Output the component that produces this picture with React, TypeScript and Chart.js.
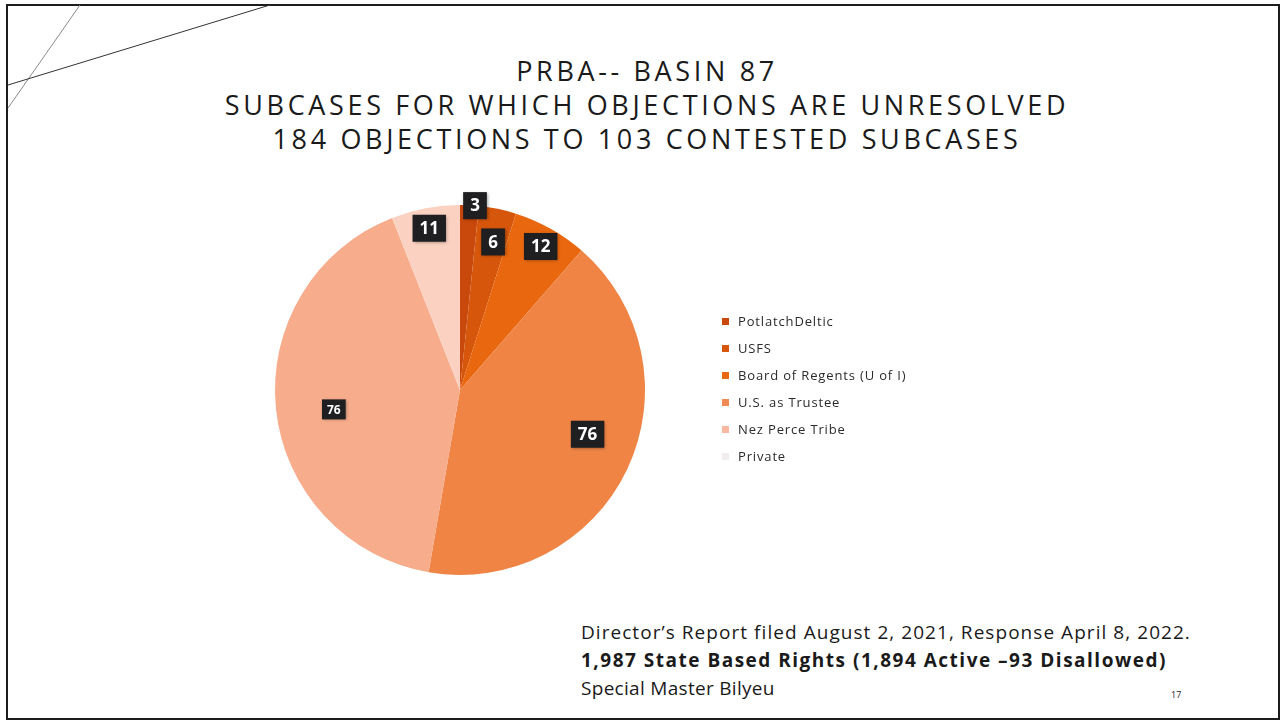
import React, { useEffect, useRef } from "react";
import { Chart, registerables } from "chart.js";

Chart.register(...registerables);

const categories = [
  "PotlatchDeltic",
  "USFS",
  "Board of Regents (U of I)",
  "U.S. as Trustee",
  "Nez Perce Tribe",
  "Private",
];
const objections = [3, 6, 12, 76, 76, 11];
const sliceColors = ["#C9480C", "#D6560B", "#E8670F", "#EF8445", "#F7AC8C", "#FBD2C1"];
const legendColors = ["#C9480C", "#D6560B", "#E8670F", "#EF8A55", "#F8B8A0", "#F1ECEE"];

const titleLines = [
  "PRBA-- BASIN 87",
  "SUBCASES FOR WHICH OBJECTIONS ARE UNRESOLVED",
  "184 OBJECTIONS TO 103 CONTESTED SUBCASES",
];
const footLines = [
  "Director’s Report filed August 2, 2021, Response April 8, 2022.",
  "1,987 State Based Rights (1,894 Active –93 Disallowed)",
  "Special Master Bilyeu",
];

// label styling (radial fraction, font size) per slice
const labelRadius = [1.0, 0.82, 0.89, 0.73, 0.69, 0.89];
const labelAngleShift = [0.03, 0.015, 0, -0.11, -0.05, 0];
const labelFont = [17, 17, 17, 17, 12, 17];
const footSpacing = [1.05, 1.5, 0.3];

const FONT = "'Open Sans', 'Lato', sans-serif";

const labelPlugin = {
  id: "boxLabels",
  afterDatasetsDraw(chart: any) {
    const ctx = chart.ctx;
    const meta = chart.getDatasetMeta(0);
    const data = chart.data.datasets[0].data;
    meta.data.forEach((arc: any, i: number) => {
      const p = arc.getProps(["x", "y", "startAngle", "endAngle", "outerRadius"], true);
      const mid = (p.startAngle + p.endAngle) / 2 + labelAngleShift[i];
      const r = p.outerRadius * labelRadius[i];
      const cx = p.x + Math.cos(mid) * r;
      const cy = p.y + Math.sin(mid) * r;
      const fs = labelFont[i];
      ctx.save();
      ctx.font = `bold ${fs}px ${FONT}`;
      const text = String(data[i]);
      const tw = ctx.measureText(text).width;
      const padX = fs > 14 ? 7 : 5;
      const bw = tw + padX * 2;
      const bh = fs > 14 ? 27 : 20;
      ctx.shadowColor = "rgba(0,0,0,0.35)";
      ctx.shadowBlur = 3;
      ctx.shadowOffsetX = 1;
      ctx.shadowOffsetY = 1;
      ctx.fillStyle = "#1f1f22";
      ctx.fillRect(cx - bw / 2, cy - bh / 2, bw, bh);
      ctx.shadowColor = "transparent";
      ctx.fillStyle = "#ffffff";
      ctx.textAlign = "center";
      ctx.textBaseline = "middle";
      ctx.fillText(text, cx, cy + 1);
      ctx.restore();
    });
  },
};

const legendPlugin = {
  id: "sideLegend",
  afterDraw(chart: any) {
    const ctx = chart.ctx;
    const x0 = 462;
    const y0 = 132;
    const step = 27;
    ctx.save();
    ctx.font = `13px ${FONT}`;
    (ctx as any).letterSpacing = "0.85px";
    ctx.textBaseline = "middle";
    ctx.textAlign = "left";
    categories.forEach((c, i) => {
      const y = y0 + i * step;
      ctx.fillStyle = legendColors[i];
      ctx.fillRect(x0, y - 4, 7, 7);
      ctx.fillStyle = "#2b2b2b";
      ctx.fillText(c, x0 + 16, y);
    });
    ctx.restore();
  },
};

export default function App() {
  const ref = useRef<HTMLCanvasElement>(null);
  useEffect(() => {
    if (!ref.current) return;
    const chart = new Chart(ref.current, {
      type: "pie",
      data: {
        labels: categories,
        datasets: [
          {
            data: objections,
            backgroundColor: sliceColors,
            borderWidth: 0,
          },
        ],
      },
      options: {
        animation: false,
        responsive: false,
        maintainAspectRatio: false,
        layout: { padding: { top: 15, bottom: 15, left: 0, right: 300 } },
        plugins: {
          legend: { display: false },
          tooltip: { enabled: false },
        },
      },
      plugins: [labelPlugin, legendPlugin],
    });
    return () => chart.destroy();
  }, []);

  return (
    <div
      style={{
        position: "absolute",
        left: 0,
        top: 0,
        width: 1283,
        height: 723,
        background: "#ffffff",
        overflow: "hidden",
        fontFamily: FONT,
      }}
    >
      <svg width={1283} height={723} style={{ position: "absolute", left: 0, top: 0 }}>
        <rect x={7} y={5} width={1272} height={714} fill="none" stroke="#1c1c1c" strokeWidth={2} />
        <line x1={80} y1={5} x2={8} y2={108} stroke="#8a8a8a" strokeWidth={1} />
        <line x1={270} y1={5} x2={8} y2={85} stroke="#333" strokeWidth={1} />
      </svg>
      {titleLines.map((t, i) => (
        <div
          key={i}
          style={{
            position: "absolute",
            left: 0,
            width: 1294,
            top: 54 + i * 34,
            textAlign: "center",
            fontSize: 27,
            letterSpacing: 3.65,
            color: "#1a1a1a",
            lineHeight: "34px",
            whiteSpace: "nowrap",
          }}
        >
          {t}
        </div>
      ))}
      <canvas
        ref={ref}
        width={700}
        height={400}
        style={{ position: "absolute", left: 260, top: 190, width: 700, height: 400 }}
      />
      {footLines.map((t, i) => (
        <div
          key={i}
          style={{
            position: "absolute",
            left: 581,
            top: 618 + i * 28,
            fontSize: 19,
            fontWeight: i === 1 ? 700 : 400,
            color: "#1a1a1a",
            lineHeight: "28px",
            whiteSpace: "nowrap",
            letterSpacing: footSpacing[i],
          }}
        >
          {t}
        </div>
      ))}
      <div style={{ position: "absolute", left: 1171, top: 688, fontSize: 9, color: "#222" }}>17</div>
    </div>
  );
}
